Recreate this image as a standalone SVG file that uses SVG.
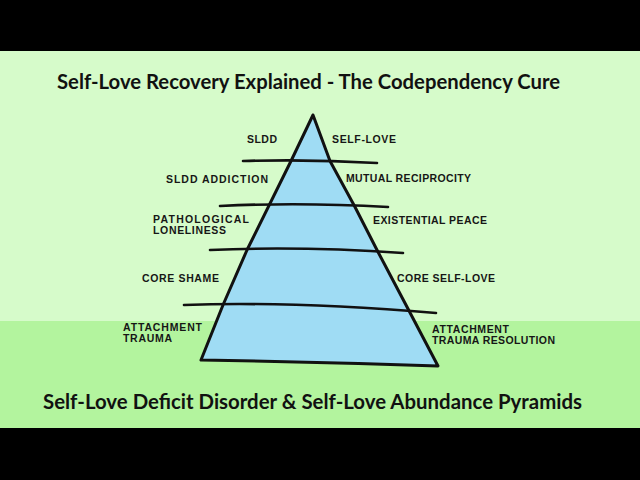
<svg xmlns="http://www.w3.org/2000/svg" width="640" height="480" viewBox="0 0 640 480">
<style>
.title{font-family:Lato,"Liberation Sans",sans-serif;font-weight:bold;font-size:21px;fill:#111}
.lbl{font-family:"Liberation Sans",Arial,sans-serif;font-weight:bold;font-size:10.5px;fill:#161616}
.band{fill:none;stroke:#111;stroke-width:2.6;stroke-linecap:round}
</style>
<rect x="0" y="0" width="640" height="480" fill="#000"/>
<rect x="0" y="51" width="640" height="270" fill="#d6fbca"/>
<rect x="0" y="321" width="640" height="107" fill="#b3f49e"/>
<text class="title" x="57" y="89" textLength="503" lengthAdjust="spacingAndGlyphs">Self-Love Recovery Explained - The Codependency Cure</text>
<g id="pyramid">
<path d="M313,115 L291,161 L247,250 L223,305 L201,360 Q320,362 438,366 L406,305 L377,250 L355,207 L330,161 Z" fill="#9fdcf4" stroke="#111" stroke-width="3" stroke-linejoin="round"/>
</g>
<g id="connectors">
<path class="band" d="M243,161 Q310,159 377,163"/>
<path class="band" d="M220,206 Q300,202 388,207"/>
<path class="band" d="M210,250 Q300,246 403,253"/>
<path class="band" d="M184,305 Q290,301 436,313"/>
</g>
<g id="left-labels">
<text class="lbl" x="247" y="143" textLength="30">SLDD</text>
<text class="lbl" x="166" y="183" textLength="102">SLDD ADDICTION</text>
<text class="lbl" x="153" y="223" textLength="96">PATHOLOGICAL</text>
<text class="lbl" x="153" y="234" textLength="73">LONELINESS</text>
<text class="lbl" x="142" y="282" textLength="77">CORE SHAME</text>
<text class="lbl" x="123" y="331" textLength="79">ATTACHMENT</text>
<text class="lbl" x="123" y="342" textLength="49">TRAUMA</text>
</g>
<g id="right-labels">
<text class="lbl" x="332" y="143" textLength="64">SELF-LOVE</text>
<text class="lbl" x="346" y="182" textLength="125">MUTUAL RECIPROCITY</text>
<text class="lbl" x="373" y="224" textLength="114">EXISTENTIAL PEACE</text>
<text class="lbl" x="397" y="282" textLength="98">CORE SELF-LOVE</text>
<text class="lbl" x="432" y="333" textLength="77">ATTACHMENT</text>
<text class="lbl" x="432" y="344" textLength="123">TRAUMA RESOLUTION</text>
</g>
<text class="title" x="43" y="409" textLength="539" lengthAdjust="spacingAndGlyphs">Self-Love Deficit Disorder &amp; Self-Love Abundance Pyramids</text>
</svg>
